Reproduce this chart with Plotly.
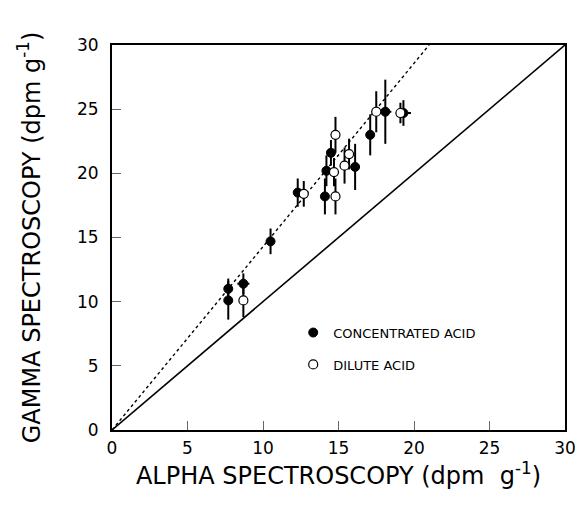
import plotly.graph_objects as go

# Concentrated acid (filled circles)
conc_x = [7.7, 7.7, 8.7, 10.5, 12.3, 14.1, 14.2, 14.5, 16.1, 17.1, 18.1, 19.3]
conc_y = [11.0, 10.1, 11.4, 14.7, 18.5, 18.2, 20.2, 21.6, 20.5, 23.0, 24.8, 24.7]
conc_yerr = [0.8, 1.5, 0.8, 1.0, 1.1, 1.4, 1.2, 1.0, 1.8, 1.6, 2.5, 1.0]
conc_xerr = [0.0, 0.0, 0.4, 0.0, 0.0, 0.0, 0.0, 0.0, 0.3, 0.0, 0.4, 0.5]

# Dilute acid (open circles)
dil_x = [8.7, 12.7, 14.8, 14.7, 14.8, 15.4, 15.7, 17.5, 19.1]
dil_y = [10.1, 18.4, 18.2, 20.1, 23.0, 20.6, 21.5, 24.8, 24.7]
dil_yerr = [1.3, 1.0, 1.4, 1.1, 1.4, 1.4, 1.2, 1.6, 0.8]
dil_xerr = [0.0, 0.3, 0.0, 0.0, 0.0, 0.3, 0.3, 0.3, 0.0]

fit_x = [0, 21.0]
fit_y = [0, 30]
one_x = [0, 30]
one_y = [0, 30]

font = "DejaVu Sans, Verdana, sans-serif"

fig = go.Figure()
fig.add_trace(go.Scatter(x=one_x, y=one_y, mode="lines",
                         line=dict(color="black", width=1.6), showlegend=False))
fig.add_trace(go.Scatter(x=fit_x, y=fit_y, mode="lines",
                         line=dict(color="black", width=1.4, dash="3px,3px"), showlegend=False))
fig.add_trace(go.Scatter(
    x=conc_x, y=conc_y, mode="markers", name="CONCENTRATED ACID",
    legendgroup="c",
    marker=dict(color="black", size=9, line=dict(color="black", width=1)),
    error_y=dict(type="data", array=conc_yerr, color="black", thickness=2, width=0),
    error_x=dict(type="data", array=conc_xerr, color="black", thickness=2, width=0),
))
fig.add_trace(go.Scatter(
    x=dil_x, y=dil_y, mode="markers", name="DILUTE ACID",
    legendgroup="d",
    marker=dict(color="white", size=9, line=dict(color="black", width=1.2)),
    error_y=dict(type="data", array=dil_yerr, color="black", thickness=2, width=0),
    error_x=dict(type="data", array=dil_xerr, color="black", thickness=2, width=0),
))

axis_common = dict(
    range=[0, 30], dtick=5, showgrid=False, zeroline=False,
    showline=True, linecolor="black", linewidth=2, mirror=True,
    ticks="inside", ticklen=9, tickcolor="#666", tickwidth=1,
    tickfont=dict(family=font, size=17, color="black"),
)

fig.update_layout(
    width=588, height=505,
    margin=dict(l=112, r=13, t=45, b=75),
    paper_bgcolor="white", plot_bgcolor="white",
    xaxis=dict(**axis_common, ticklabelstandoff=2,
               title=dict(text="ALPHA SPECTROSCOPY (dpm  g<sup>-1</sup>)",
                          font=dict(family=font, size=24, color="black"), standoff=4)),
    yaxis=dict(**axis_common, ticklabelstandoff=8,
               title=dict(text="GAMMA SPECTROSCOPY (dpm g<sup>-1</sup>)",
                          font=dict(family=font, size=24, color="black"), standoff=30)),
    legend=dict(x=0.40, y=0.292, xanchor="left", yanchor="top",
                font=dict(family=font, size=13, color="black"),
                bgcolor="rgba(0,0,0,0)", tracegroupgap=12, traceorder="grouped",
                itemwidth=30),
    showlegend=True,
)

fig.write_html("out.html")
